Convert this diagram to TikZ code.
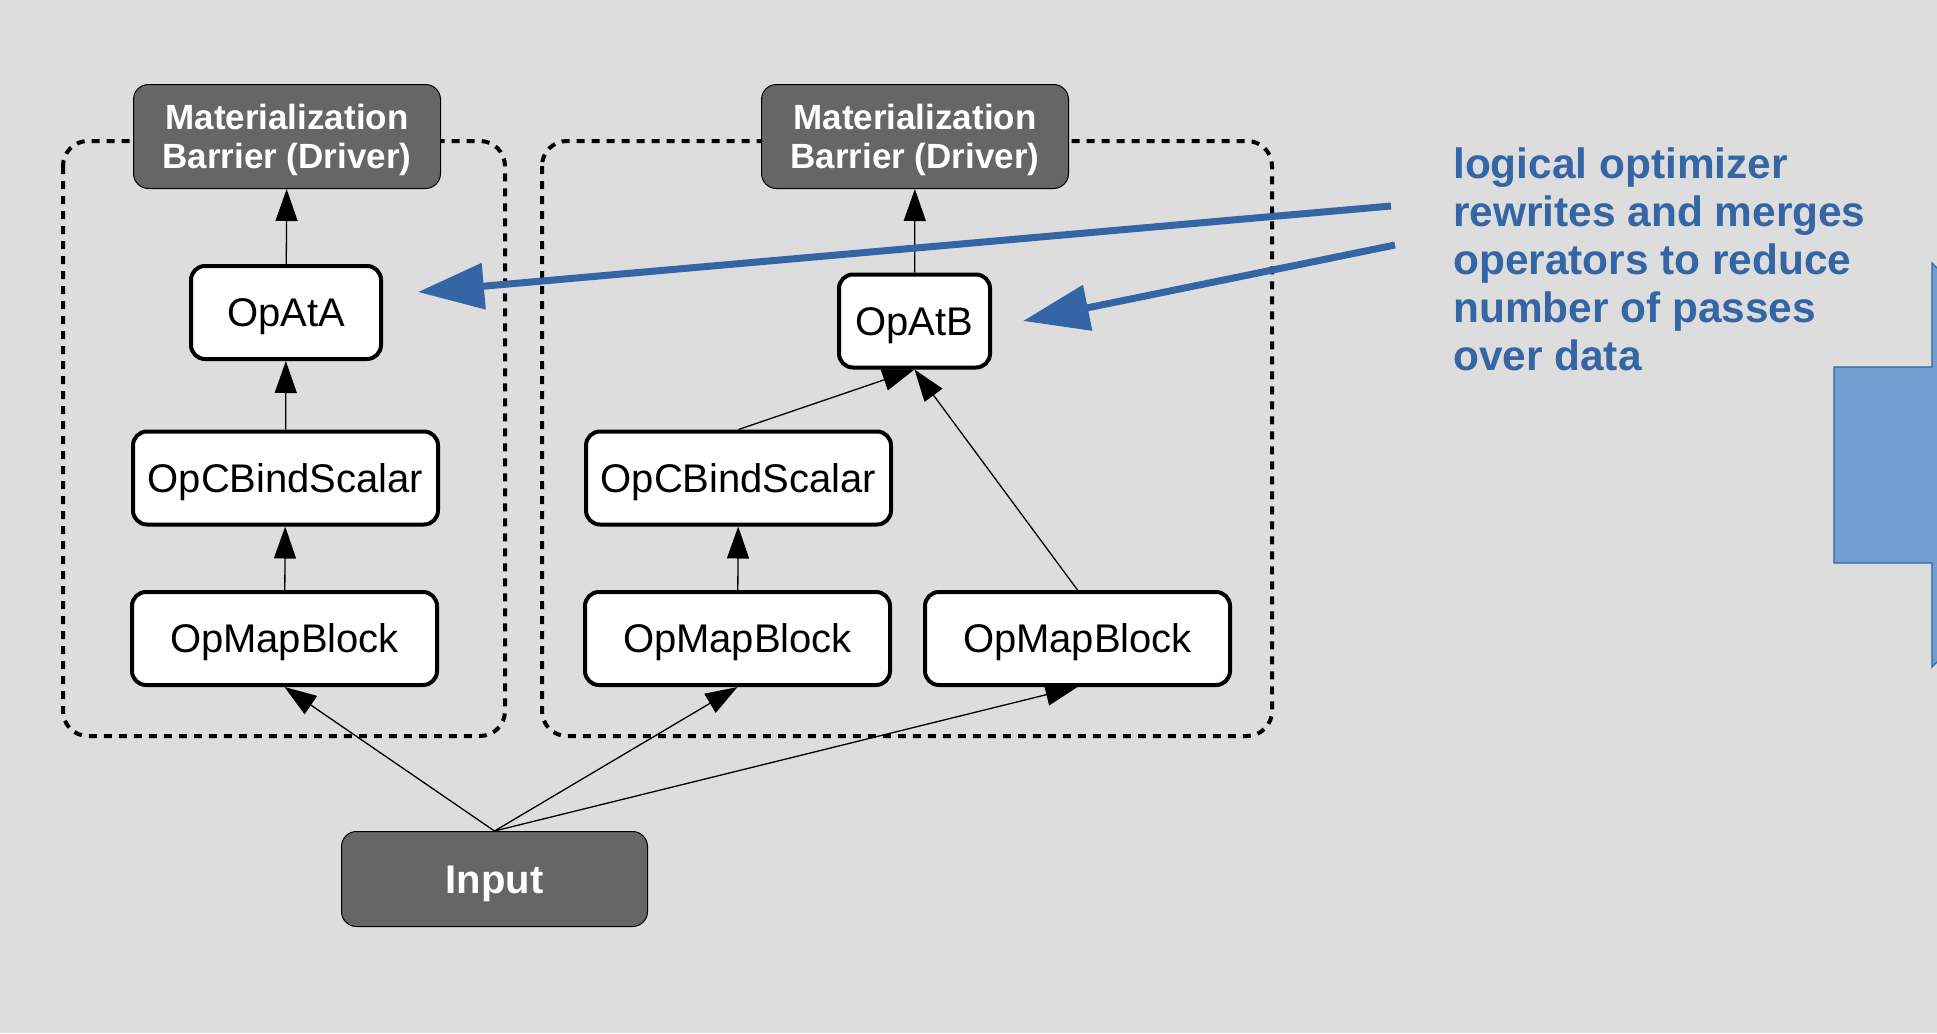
\documentclass[tikz,border=0pt]{standalone}
\usepackage{fontspec}
\setmainfont{Liberation Sans}
\usetikzlibrary{arrows.meta}

\definecolor{bggray}{RGB}{221,221,221}
\definecolor{darkgray}{RGB}{102,102,102}
\definecolor{hintblue}{RGB}{52,101,164}
\definecolor{paleblue}{RGB}{114,159,207}

\begin{document}
\begin{tikzpicture}[x=1pt, y=-1pt,
    opbox/.style={draw, fill=white, line width=4pt, rounded corners=14pt,
        minimum height=93pt, inner sep=0pt, text height=28pt, text depth=0pt,
        font=\fontsize{40}{46}\selectfont},
    darkbox/.style={draw, fill=darkgray, line width=1pt, rounded corners=15pt,
        inner sep=0pt, text=white, align=center, text depth=0pt},
    flow/.style={line width=1.3pt, -{Triangle[length=32pt, width=22pt]}},
    cluster/.style={line width=4pt, dash pattern=on 8pt off 7pt, rounded corners=25pt},
    hint/.style={line width=7pt, color=hintblue, -{Triangle[length=66pt, width=45pt]}}]
    % Define the layers
    \pgfdeclarelayer{0}
    \pgfsetlayers{0,main}
    \useasboundingbox ({0}, {0}) rectangle ({1937}, {1033});

    % Layer 0: background and the two dashed groups
    \begin{pgfonlayer}{0}
        \fill[bggray] ({0}, {0}) rectangle ({1937}, {1033});
        \draw[cluster] ({63}, {141}) rectangle ({505}, {736});
        \draw[cluster] ({542}, {141}) rectangle ({1272}, {736});
    \end{pgfonlayer}

    % Operators
    \node[darkbox, minimum width=307pt, minimum height=104pt,
        font=\bfseries\fontsize{35}{38.4}\selectfont] (ma) at ({287}, {136.5})
        {Materialization\\Barrier (Driver)};
    \node[darkbox, minimum width=307pt, minimum height=104pt,
        font=\bfseries\fontsize{35}{38.4}\selectfont] (mb) at ({915}, {136.5})
        {Materialization\\Barrier (Driver)};
    \node[opbox, minimum width=190pt] (ta) at ({286}, {312.5}) {OpAtA};
    \node[opbox, minimum width=151pt] (tb) at ({914.5}, {321}) {OpAtB};
    \node[opbox, minimum width=305pt] (ca) at ({285.5}, {478}) {OpCBindScalar};
    \node[opbox, minimum width=305pt] (cb) at ({738.5}, {478}) {OpCBindScalar};
    \node[opbox, minimum width=305pt] (pa) at ({284.5}, {638.5}) {OpMapBlock};
    \node[opbox, minimum width=305pt] (pb) at ({737.5}, {638.5}) {OpMapBlock};
    \node[opbox, minimum width=305pt] (pc) at ({1077.5}, {638.5}) {OpMapBlock};
    \node[darkbox, minimum width=306pt, minimum height=95pt, text height=28pt,
        font=\bfseries\fontsize{40}{46}\selectfont] (in) at ({494.5}, {879}) {Input};

    % Data flow
    \draw[flow] (ta) to (ma);
    \draw[flow] (ca) to (ta);
    \draw[flow] (pa) to (ca);
    \draw[flow] (tb) to (mb);
    \draw[flow] (cb.north) to (tb.south);
    \draw[flow] (pc.north) to (tb.south);
    \draw[flow] (pb) to (cb);
    \draw[flow] (in.north) to (pa.south);
    \draw[flow] (in.north) to (pb.south);
    \draw[flow] (in.north) to (pc.south);

    % Note on the right
    \node[anchor=north west, align=left, inner sep=0pt, text=hintblue,
        font=\bfseries\fontsize{42.4}{48}\selectfont] (note) at ({1453}, {148})
        {logical optimizer\\rewrites and merges\\operators to reduce\\number of passes\\over data};
    \coordinate (fa) at ({1391}, {206});
    \coordinate (fb) at ({1395}, {245});
    \coordinate (ha) at ({418}, {292});
    \coordinate (hb) at ({1023}, {321});
    \draw[hint] (fa) to (ha);
    \draw[hint] (fb) to (hb);

    % Block arrow, cut by the right edge
    \draw[fill=paleblue, draw=hintblue, line width=1.3pt]
        ({1834}, {367}) -- ({1932}, {367}) -- ({1932}, {263}) -- ({2134}, {465})
        -- ({1932}, {667}) -- ({1932}, {563}) -- ({1834}, {563}) -- cycle;
\end{tikzpicture}
\end{document}
